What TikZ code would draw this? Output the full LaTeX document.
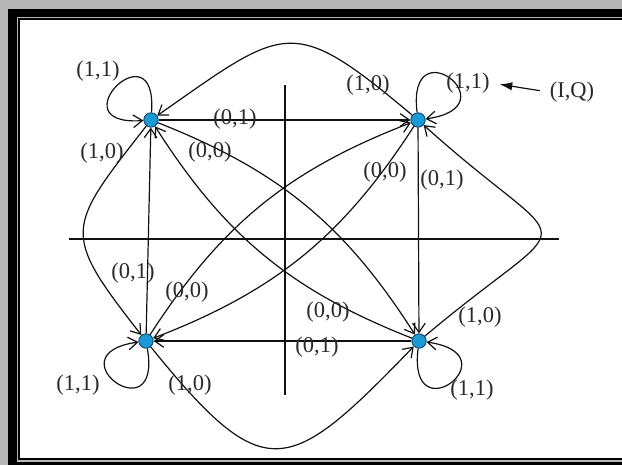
\documentclass[tikz,border=0pt]{standalone}
\usepackage{fontspec}
\setmainfont{Liberation Serif}
\usepackage{tikz}
\usetikzlibrary{
  arrows.meta,
  positioning,
  calc
}
\definecolor{dotfill}{HTML}{1C9AD6}
\definecolor{dotline}{HTML}{0B3D66}
\definecolor{framegray}{HTML}{B7B7B7}
\definecolor{textprimary}{HTML}{2A2A2A}
\definecolor{arrowcolor}{HTML}{111111}
\tikzset{
  state/.style={
    circle,
    fill=dotfill,
    draw=dotline,
    line width=0.6pt,
    minimum size=0.36cm,
    inner sep=0pt,
  },
  flow/.style={
    -{Straight Barb[length=6.5pt, width=9pt]},
    line width=0.85pt,
    draw=arrowcolor,
  },
  selfloop/.style={
    flow,
    min distance=2.2cm,
  },
  axis/.style={
    line width=0.85pt,
    draw=arrowcolor,
  },
  elabel/.style={
    font=\fontsize{16}{18}\selectfont,
    text=textprimary,
    inner sep=1pt,
  },
  pointer/.style={
    -{Latex[length=9pt, width=6pt]},
    line width=0.85pt,
    draw=arrowcolor,
    shorten <=6pt,
    shorten >=6pt,
  },
}

\begin{document}
\begin{tikzpicture}[x=0.025cm, y=0.025cm]
\useasboundingbox (0,0) rectangle (622,465);

% === Frame ===
\fill[framegray] (0,0) rectangle (640,465);
\fill[black] (8,0) rectangle (640,456);
\fill[framegray] (17,3) rectangle (640,448);
\fill[black] (18,5) rectangle (640,446.5);
\fill[white] (19.5,7) rectangle (640,444.5);

% === Axes ===
\draw[axis] (69,226) -- (559,226);
\draw[axis] (285,380) -- (285,70);

% === States ===
\node[state] (q2) at (151,345) {};
\node[state] (q1) at (418,345) {};
\node[state] (q3) at (146,124) {};
\node[state] (q4) at (419,124) {};

% (0,1): one step round
\draw[flow] (q2) -- (q1);
\draw[flow] (q1) -- (q4);
\draw[flow] (q4) -- (q3);
\draw[flow] (q3) -- (q2);

% (0,0): to the opposite state
\draw[flow] (q2) to[bend left=18] (q4);
\draw[flow] (q4) to[bend left=18] (q2);
\draw[flow] (q1) to[bend left=18] (q3);
\draw[flow] (q3) to[bend left=18] (q1);

% (1,0): one step back, outer arcs
\draw[flow] (q2) to[out=232, in=128, looseness=1.6] (q3);
\draw[flow] (q1) to[out=140, in=35, looseness=1.58] (q2);
\draw[flow] (q4) to[out=40, in=-42, looseness=2.5] (q1);
\draw[flow] (q3) to[out=-51, in=226, looseness=1.77] (q4);

% (1,1): stay
\draw[selfloop] (q2) to[out=86, in=184] (q2);
\draw[selfloop] (q1) to[out=97, in=8] (q1);
\draw[selfloop] (q3) to[out=-80, in=188] (q3);
\draw[selfloop] (q4) to[out=-97, in=-8] (q4);

% === Labels ===
\node[elabel] (l2a) at (98,394) {(1,1)};
\node[elabel] (l2b) at (102,312) {(1,0)};
\node[elabel] (l2c) at (235,346) {(0,1)};
\node[elabel] (l2d) at (210,313) {(0,0)};

\node[elabel] (l1a) at (468,382) {(1,1)};
\node[elabel] (l1b) at (368,380) {(1,0)};
\node[elabel] (l1c) at (442,285) {(0,1)};
\node[elabel] (l1d) at (385,293) {(0,0)};

\node[elabel] (l3a) at (78,80) {(1,1)};
\node[elabel] (l3b) at (190,80) {(1,0)};
\node[elabel] (l3c) at (133,192) {(0,1)};
\node[elabel] (l3d) at (187,173) {(0,0)};

\node[elabel] (l4a) at (472,75) {(1,1)};
\node[elabel] (l4b) at (480,148) {(1,0)};
\node[elabel] (l4c) at (317,118) {(0,1)};
\node[elabel] (l4d) at (328,153) {(0,0)};

% input pair key
\node[elabel] (iq) at (572,373) {(I,Q)};
\draw[pointer] (iq.west) -- (l1a.east);

\end{tikzpicture}
\end{document}
